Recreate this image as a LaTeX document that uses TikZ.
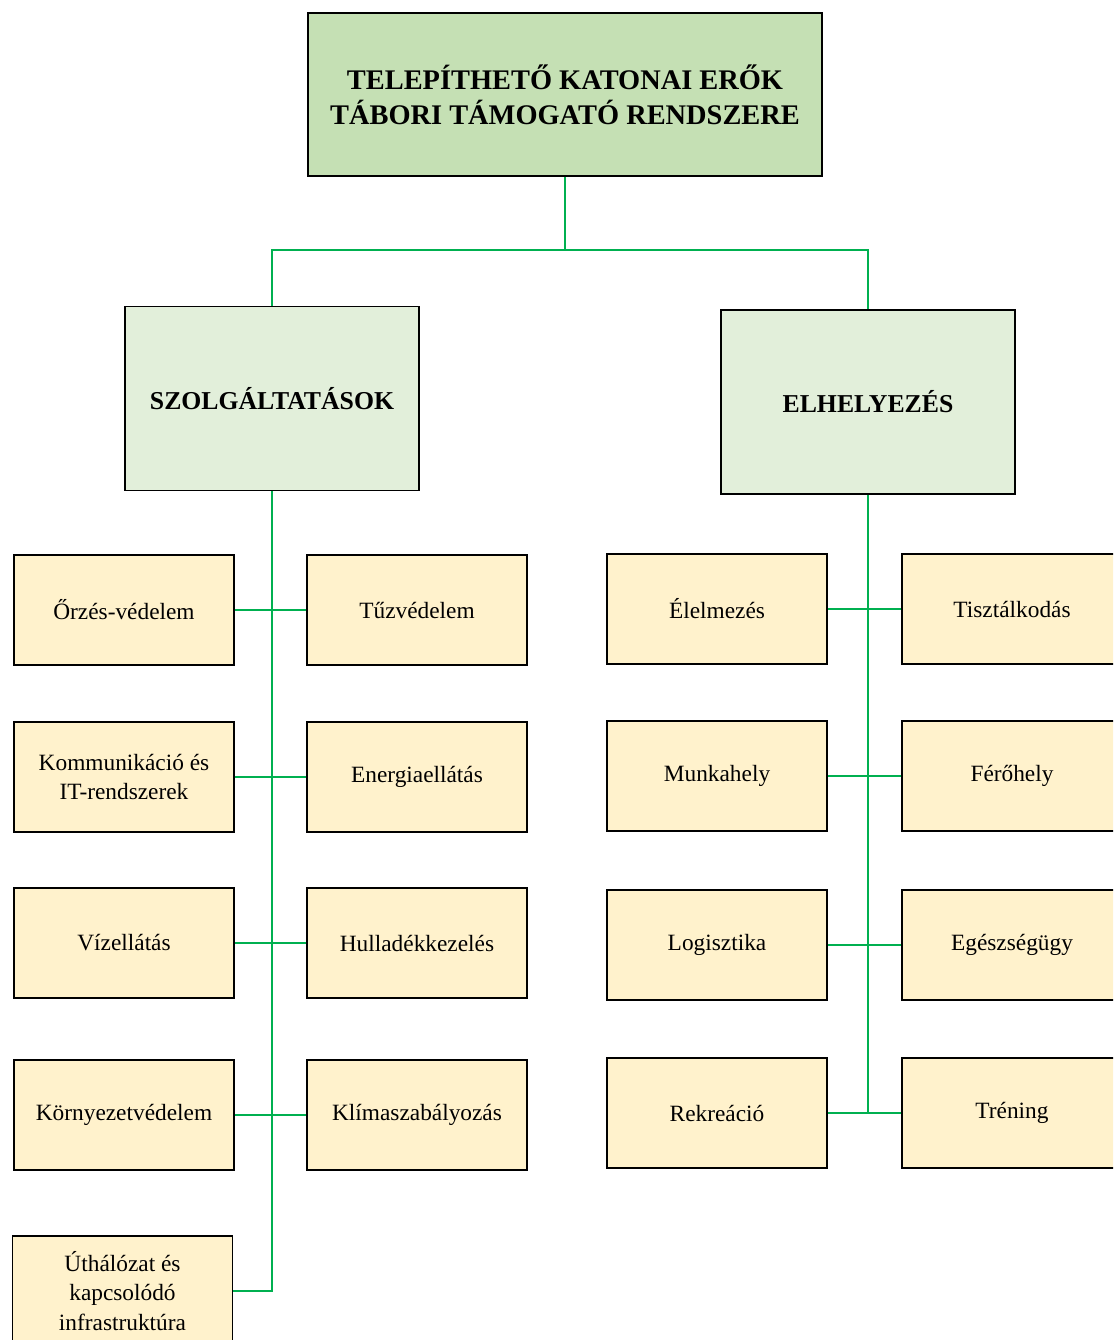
\documentclass[tikz,border=0pt]{standalone}
\usepackage{fontspec}
\setmainfont{Liberation Serif}
\usetikzlibrary{positioning}
\definecolor{topgreen}{HTML}{C5E0B4}
\definecolor{headgreen}{HTML}{E2EFDA}
\definecolor{itemyellow}{HTML}{FFF2CC}
\definecolor{linkgreen}{HTML}{00B050}
\tikzset{
    box/.style={draw=black, line width=1.3pt, inner sep=2pt, align=center}, % common frame
    topbox/.style={box, fill=topgreen, minimum width=12.85cm, minimum height=4.075cm, font=\bfseries\fontsize{20.2}{25}\selectfont},
    headbox/.style={box, fill=headgreen, minimum width=7.35cm, minimum height=4.6cm, font=\bfseries\fontsize{18.3}{22}\selectfont},
    itembox/.style={box, fill=itemyellow, minimum width=5.5cm, minimum height=2.75cm, font=\fontsize{16.6}{21}\selectfont},
    link/.style={draw=linkgreen, line width=1pt} % green connectors
}
\begin{document}
\begin{tikzpicture}[x=0.025cm, y=-0.025cm]
            \useasboundingbox (0,0) rectangle (1113,1340);
            \clip (0,0) rectangle (1113,1340);

            \node[topbox] (title) at (565,94.5) {TELEPÍTHETŐ KATONAI ERŐK\\TÁBORI TÁMOGATÓ RENDSZERE};
            \node[headbox] (szolg) at (272,398.5) {SZOLGÁLTATÁSOK};
            \node[headbox] (elhely) at (868,402) {ELHELYEZÉS};

            \coordinate (fork) at (565,250);
            \draw[link] (title.south) -- (fork);
            \draw[link] (szolg.north) |- (fork) -| (elhely.north);

            % services
            \foreach \y/\n/\a/\b in {610/1/Őrzés-védelem/Tűzvédelem, 777/2/{Kommunikáció és\\IT-rendszerek}/Energiaellátás, 943/3/Vízellátás/Hulladékkezelés, 1115/4/Környezetvédelem/Klímaszabályozás} {
                \node[itembox] (sl\n) at (124,\y) {\a};
                \node[itembox] (sr\n) at (417,\y) {\b};
                \draw[link] (sl\n) -- (sr\n);
            }
            \node[itembox] (ut) at (122.5,1291) {Úthálózat és\\kapcsolódó\\infrastruktúra};
            \draw[link] (szolg.south) -- (szolg.south |- ut.east) -- (ut.east);

            % accommodation
            \foreach \y/\n/\a/\b in {609/1/Élelmezés/Tisztálkodás, 776/2/Munkahely/Férőhely, 945/3/Logisztika/Egészségügy, 1113/4/Rekreáció/Tréning} {
                \node[itembox] (el\n) at (717,\y) {\a};
                \node[itembox] (er\n) at (1012,\y) {\b};
                \draw[link] (el\n) -- (er\n);
            }
            \draw[link] (elhely.south) -- (elhely.south |- el4.east);
        \end{tikzpicture}
\end{document}
